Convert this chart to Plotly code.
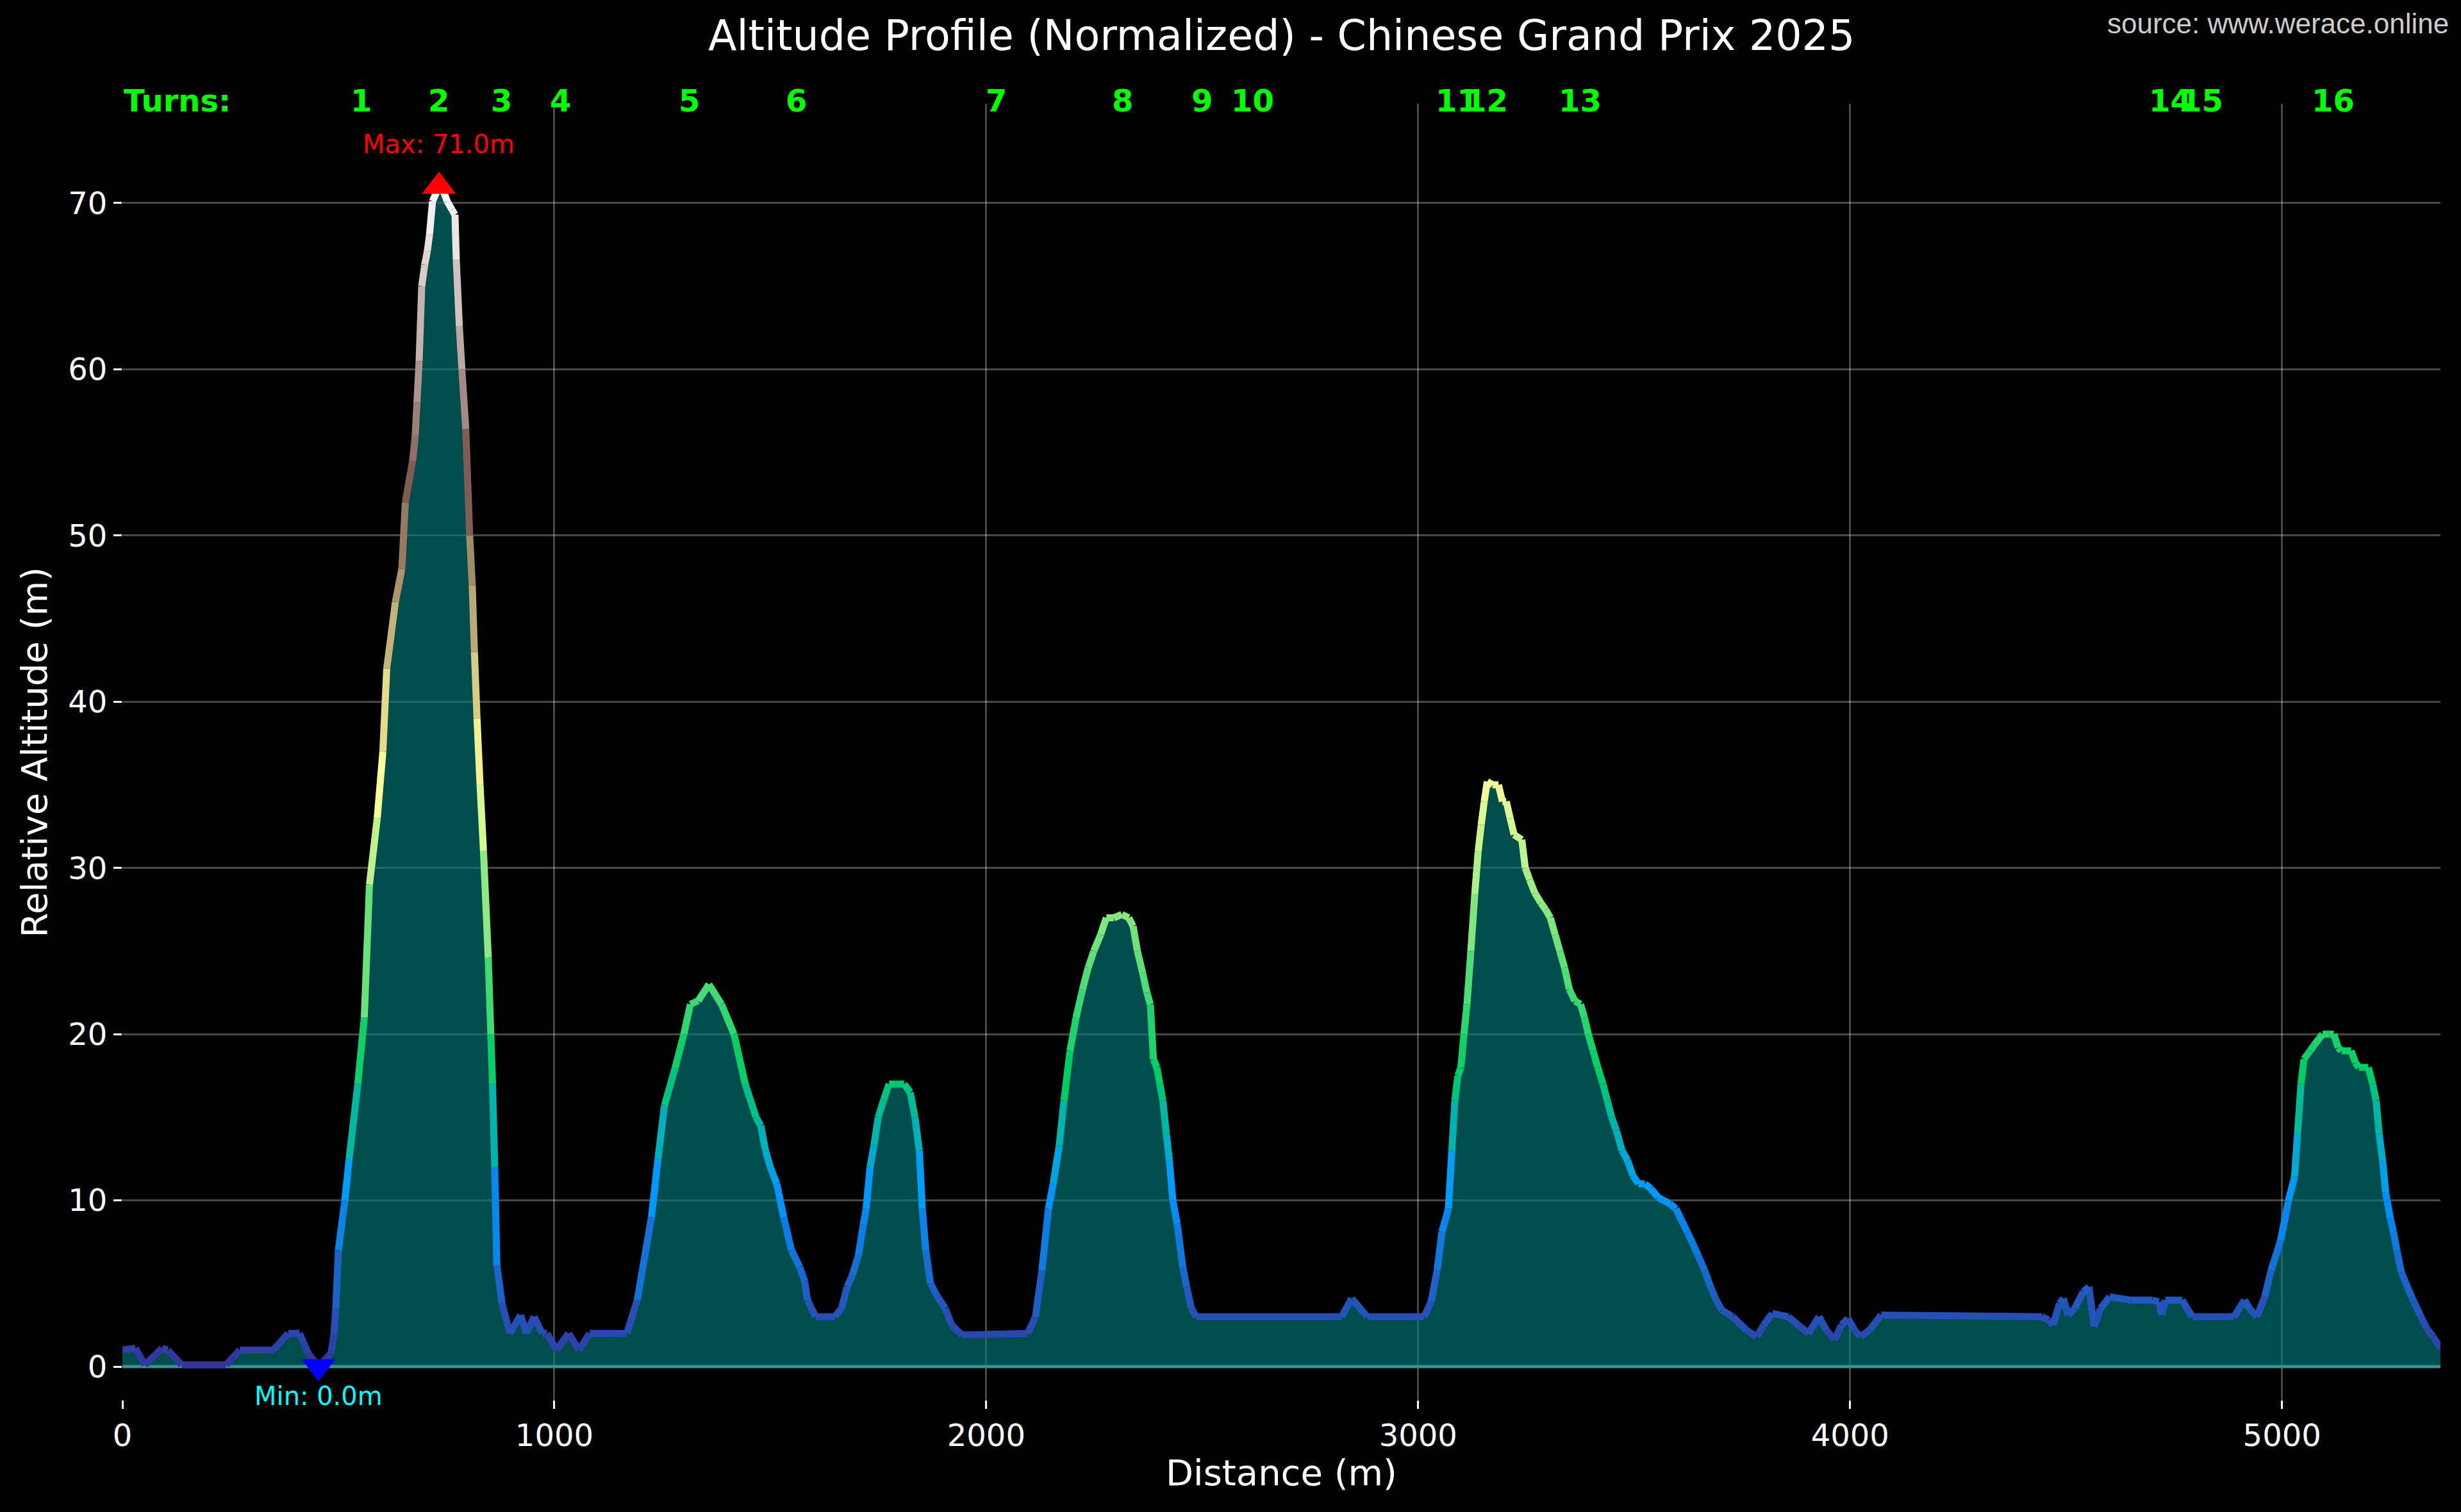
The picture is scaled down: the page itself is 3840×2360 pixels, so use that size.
import numpy as np
import plotly.graph_objects as go

# ---------------- data ----------------
distance_m = [
    0, 30, 52, 92, 105, 137, 240, 272, 350, 384, 410, 430, 454, 483, 490, 494,
    500, 515, 525, 545, 560, 572, 590, 603, 612, 632, 647, 655, 672, 678, 682,
    687, 693, 700, 706, 711, 718, 733, 745, 752, 763, 770, 773, 780, 786, 795,
    804, 810, 815, 821, 828, 836, 847, 853, 857, 862, 867, 879, 897, 922, 935,
    953, 972, 983, 1005, 1033, 1057, 1082, 1168, 1192, 1225, 1240, 1255, 1280,
    1300, 1315, 1333, 1358, 1387, 1416, 1442, 1467, 1478, 1489, 1500, 1515,
    1531, 1549, 1568, 1580, 1586, 1605, 1649, 1665, 1678, 1690, 1704, 1715,
    1722, 1731, 1740, 1750, 1762, 1775, 1790, 1810, 1824, 1835, 1845, 1852,
    1860, 1871, 1885, 1905, 1920, 1944, 2096, 2114, 2129, 2144, 2155, 2169,
    2180, 2194, 2208, 2223, 2236, 2249, 2265, 2278, 2295, 2314, 2330, 2340,
    2350, 2362, 2372, 2380, 2387, 2395, 2402, 2409, 2417, 2424, 2432, 2442,
    2455, 2464, 2475, 2486, 2823, 2846, 2882, 3014, 3030, 3044, 3055, 3070,
    3078, 3085, 3092, 3099, 3106, 3113, 3122, 3131, 3139, 3146, 3153, 3160,
    3172, 3186, 3195, 3204, 3213, 3222, 3240, 3248, 3258, 3270, 3284, 3295,
    3306, 3317, 3328, 3339, 3350, 3363, 3376, 3385, 3394, 3405, 3416, 3428,
    3438, 3448, 3459, 3472, 3485, 3497, 3510, 3525, 3539, 3555, 3568, 3583,
    3597, 3610, 3623, 3636, 3648, 3663, 3677, 3690, 3703, 3728, 3760, 3784,
    3800, 3820, 3857, 3880, 3904, 3928, 3945, 3964, 3980, 3995, 4010, 4024,
    4045, 4072, 4444, 4460, 4470, 4485, 4494, 4505, 4520, 4540, 4553, 4565,
    4580, 4601, 4650, 4700, 4715, 4722, 4730, 4769, 4780, 4793, 4889, 4913,
    4925, 4942, 4960, 4975, 4997, 5015, 5029, 5036, 5044, 5051, 5065, 5076,
    5094, 5110, 5120, 5130, 5138, 5160, 5170, 5178, 5200, 5210, 5218, 5225,
    5233, 5240, 5251, 5258, 5266, 5276, 5300, 5320, 5335, 5350, 5367,
]
altitude_m = [
    1.0, 1.1, 0.1, 1.1, 1.0, 0.1, 0.1, 1.0, 1.0, 2.0, 2.0, 0.8, 0.0, 0.8, 2.0, 3.5,
    7.0, 10.0, 12.5, 17.0, 21.0, 29.0, 33.0, 37.0, 42.0, 46.0, 48.0, 52.0, 54.5, 56.0, 58.0,
    60.5, 65.0, 66.3, 67.1, 68.1, 70.1, 71.0, 70.6, 70.1, 69.6, 69.3, 66.6, 62.6, 60.0, 56.4,
    50.0, 47.0, 43.0, 39.0, 35.0, 31.0, 24.6, 20.0, 17.0, 12.0, 6.1, 3.8, 2.0, 3.1, 2.0,
    3.0, 2.0, 2.0, 1.0, 2.0, 1.0, 2.0, 2.0, 4.0, 9.0, 12.5, 15.7, 18.0,
    20.0, 21.8, 22.0, 23.0, 21.8, 20.0, 17.0, 15.0, 14.5, 13.0, 12.0, 11.0,
    9.0, 7.0, 6.0, 5.1, 4.0, 3.0, 3.0, 3.5, 4.8, 5.5, 6.7, 8.5,
    9.5, 12.0, 13.3, 15.0, 16.0, 17.0, 17.0, 17.0, 16.5, 15.0, 13.0, 9.5,
    7.0, 5.0, 4.3, 3.5, 2.5, 1.9, 2.0, 3.0, 5.8, 9.5, 11.0, 13.3,
    16.0, 19.0, 21.0, 22.7, 24.0, 25.0, 26.0, 27.0, 27.0, 27.2, 27.0, 26.5,
    25.0, 23.7, 22.5, 21.8, 18.5, 18.0, 17.0, 16.0, 14.0, 12.4, 10.0, 8.6,
    6.0, 4.8, 3.5, 3.0, 3.0, 4.1, 3.0, 3.0, 3.9, 5.8, 8.1, 9.5,
    13.0, 16.0, 17.5, 18.0, 20.0, 21.8, 25.0, 28.4, 31.0, 32.6, 34.0, 35.2,
    35.0, 35.0, 34.0, 34.0, 33.0, 32.0, 31.7, 30.0, 29.3, 28.5, 27.9, 27.5,
    27.0, 26.0, 25.0, 24.0, 22.7, 22.0, 21.8, 21.0, 20.0, 19.0, 18.0, 17.0,
    16.0, 15.0, 14.2, 13.0, 12.4, 11.5, 11.0, 11.0, 10.7, 10.2, 10.0, 9.8,
    9.5, 8.8, 8.1, 7.4, 6.7, 5.8, 4.8, 4.0, 3.4, 3.0, 2.2, 1.8,
    2.5, 3.2, 3.0, 2.5, 2.0, 3.0, 2.2, 1.6, 2.5, 2.9, 2.2, 1.8,
    2.2, 3.1, 3.0, 2.8, 2.5, 3.8, 4.1, 3.1, 3.5, 4.5, 4.8, 2.4,
    3.5, 4.2, 4.0, 4.0, 3.9, 3.1, 4.0, 4.0, 3.5, 3.0, 3.0, 4.0,
    3.5, 3.0, 4.2, 5.8, 7.6, 10.0, 11.4, 14.0, 17.0, 18.5, 19.0, 19.4,
    20.0, 20.0, 20.0, 19.2, 19.0, 19.0, 18.3, 18.0, 18.0, 17.0, 16.0, 14.0,
    12.4, 10.5, 8.9, 8.1, 7.0, 5.7, 4.2, 3.1, 2.3, 1.8, 1.1,
]
turn_labels = ["1", "2", "3", "4", "5", "6", "7", "8", "9", "10",
               "11", "12", "13", "14", "15", "16"]
turn_distance_m = [553, 732, 878, 1014, 1312, 1560, 2023, 2315, 2499, 2616,
                   3090, 3158, 3375, 4741, 4815, 5119]
x_tick_values = [0, 1000, 2000, 3000, 4000, 5000]
y_tick_values = [0, 10, 20, 30, 40, 50, 60, 70]

# ---------------- matplotlib "terrain" colormap ----------------
terrain_stops = [
    (0.00, (0.2, 0.2, 0.6)),
    (0.15, (0.0, 0.6, 1.0)),
    (0.25, (0.0, 0.8, 0.4)),
    (0.50, (1.0, 1.0, 0.6)),
    (0.75, (0.5, 0.36, 0.33)),
    (1.00, (1.0, 1.0, 1.0)),
]


def terrain(t):
    t = min(max(t, 0.0), 1.0)
    pos = [s[0] for s in terrain_stops]
    rgb = [np.interp(t, pos, [s[1][k] for s in terrain_stops]) for k in range(3)]
    return "rgb(%d,%d,%d)" % tuple(int(round(c * 255)) for c in rgb)


x = np.array(distance_m, dtype=float)
y = np.array(altitude_m, dtype=float)
ymin, ymax = y.min(), y.max()
i_max = int(np.argmax(y))
i_min = int(np.argmin(y))

fig = go.Figure()

# filled area under the profile (teal, alpha 0.6 so the grid shows through)
fig.add_trace(go.Scatter(
    x=x, y=y, mode="lines", fill="tozeroy",
    fillcolor="rgba(0,128,128,0.6)", line=dict(width=0, color="rgba(0,0,0,0)"),
    hoverinfo="skip", showlegend=False,
))

# baseline at zero
fig.add_trace(go.Scatter(
    x=[x[0], x[-1]], y=[0, 0], mode="lines",
    line=dict(color="rgb(48,150,148)", width=5),
    hoverinfo="skip", showlegend=False,
))

# line coloured by altitude (segments grouped by colour level)
levels = 128
groups = {}
for i in range(len(x) - 1):
    v = 0.5 * (y[i] + y[i + 1])
    t = (v - ymin) / (ymax - ymin)
    q = int(round(t * levels))
    gx, gy = groups.setdefault(q, ([], []))
    gx += [x[i], x[i + 1], None]
    gy += [y[i], y[i + 1], None]
for q in sorted(groups):
    gx, gy = groups[q]
    fig.add_trace(go.Scatter(
        x=gx, y=gy, mode="lines", connectgaps=False,
        line=dict(color=terrain(q / levels), width=11),
        hoverinfo="skip", showlegend=False,
    ))

# max / min markers
fig.add_trace(go.Scatter(
    x=[x[i_max]], y=[y[i_max]], mode="markers",
    marker=dict(symbol="triangle-up", size=46, color="red", line=dict(width=0)),
    hoverinfo="skip", showlegend=False,
))
fig.add_trace(go.Scatter(
    x=[x[i_min]], y=[y[i_min]], mode="markers",
    marker=dict(symbol="triangle-down", size=46, color="blue", line=dict(width=0)),
    hoverinfo="skip", showlegend=False,
))

fig.add_annotation(x=x[i_max], y=y[i_max] + 2.55, xref="x", yref="y",
                   text="Max: %.1fm" % y[i_max], showarrow=False,
                   font=dict(family="DejaVu Sans", size=40, color="red"),
                   xanchor="center", yanchor="middle")
fig.add_annotation(x=x[i_min], y=y[i_min] - 1.77, xref="x", yref="y",
                   text="Min: %.1fm" % y[i_min], showarrow=False,
                   font=dict(family="DejaVu Sans", size=40, color="cyan"),
                   xanchor="center", yanchor="middle")

# turn labels
fig.add_annotation(x=0, y=1.0025, xref="x", yref="paper", text="Turns:",
                   showarrow=False, xanchor="left", yanchor="middle",
                   font=dict(family="DejaVu Sans", size=48, color="#00ff00",
                             weight="bold"))
for lab, d in zip(turn_labels, turn_distance_m):
    fig.add_annotation(x=d, y=1.0025, xref="x", yref="paper", text=lab,
                       showarrow=False, xanchor="center", yanchor="middle",
                       font=dict(family="DejaVu Sans", size=48, color="#00ff00",
                                 weight="bold"))

# title, source, axis titles
fig.add_annotation(x=0.5, y=1.0524, xref="paper", yref="paper",
                   text="Altitude Profile (Normalized) - Chinese Grand Prix 2025",
                   showarrow=False, xanchor="center", yanchor="middle",
                   font=dict(family="DejaVu Sans", size=65, color="white"))
fig.add_annotation(x=1.0042, y=1.0618, xref="paper", yref="paper",
                   text="source: www.werace.online",
                   showarrow=False, xanchor="right", yanchor="middle",
                   font=dict(family="Liberation Sans, Arial", size=44, color="#cccccc"))
fig.add_annotation(x=0.5, y=-0.0559, xref="paper", yref="paper",
                   text="Distance (m)", showarrow=False,
                   xanchor="center", yanchor="middle",
                   font=dict(family="DejaVu Sans", size=56, color="white"))
fig.add_annotation(x=-0.0379, y=0.5, xref="paper", yref="paper",
                   text="Relative Altitude (m)", showarrow=False, textangle=-90,
                   xanchor="center", yanchor="middle",
                   font=dict(family="DejaVu Sans", size=56, color="white"))

grid_col = "rgba(255,255,255,0.28)"
fig.update_layout(
    width=3840, height=2360,
    margin=dict(l=191, r=32, t=162, b=175),
    paper_bgcolor="black", plot_bgcolor="black",
    showlegend=False,
    xaxis=dict(
        range=[x[0], x[-1]], tickvals=x_tick_values,
        ticks="outside", ticklen=13, tickwidth=3, tickcolor="white",
        tickfont=dict(family="DejaVu Sans", size=48, color="white"),
        showgrid=True, gridcolor=grid_col, gridwidth=2.5,
        zeroline=False, showline=False,
    ),
    yaxis=dict(
        range=[-2, ymax * 1.07], tickvals=y_tick_values,
        ticks="outside", ticklen=13, tickwidth=3, tickcolor="white",
        tickfont=dict(family="DejaVu Sans", size=48, color="white"),
        showgrid=True, gridcolor=grid_col, gridwidth=2.5,
        zeroline=False, showline=False,
    ),
)

fig.write_html(
    "out.html",
    config={"displayModeBar": False},
    post_script="document.body.style.margin='0';"
                "document.body.style.background='black';",
)
